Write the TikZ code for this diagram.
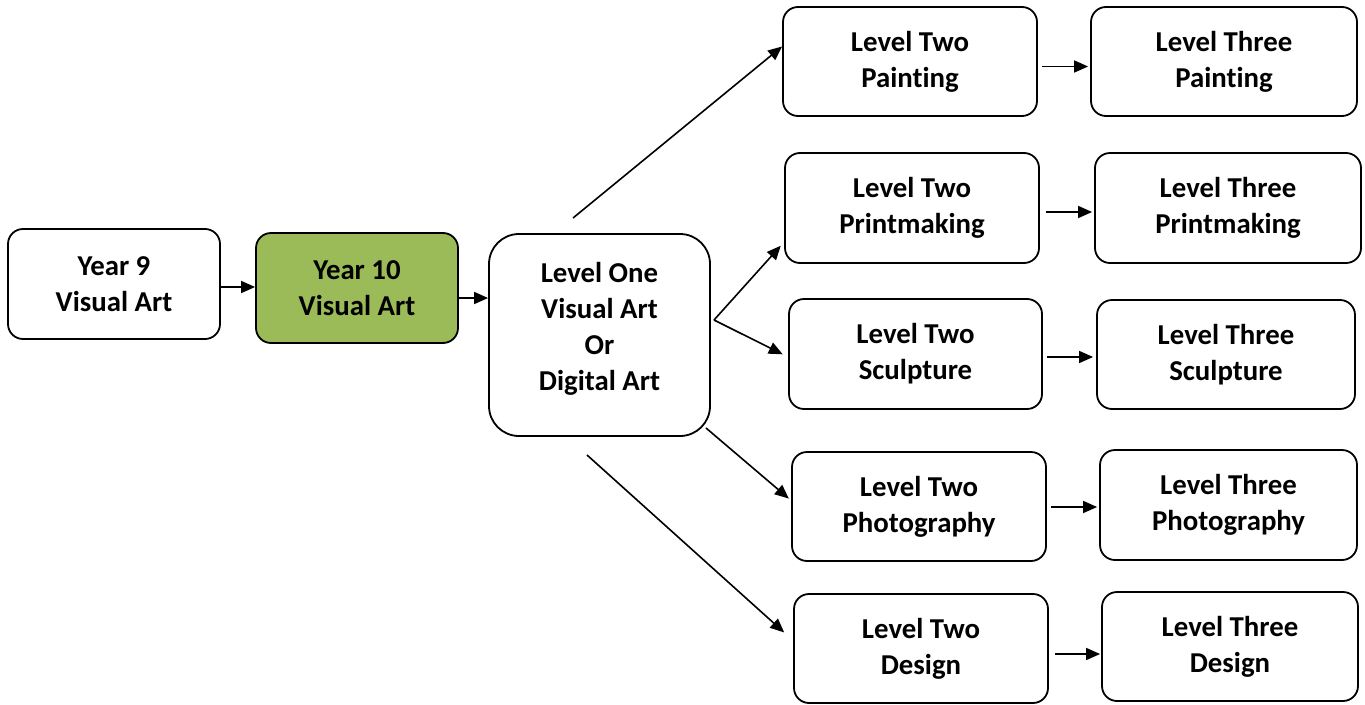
\documentclass[tikz,border=0pt]{standalone}
\usepackage{fontspec}
\setmainfont[Ligatures=NoCommon]{Carlito}
\usetikzlibrary{arrows.meta,calc}
\definecolor{olive}{HTML}{9BBB59}
\tikzset{
  box/.style={draw=black, line width=1.8pt, rounded corners=15pt, fill=white,
    align=center, inner sep=0pt, font=\fontsize{28.8}{36}\selectfont\bfseries},
  arr/.style={line width=1.6pt, -{Triangle[length=14pt,width=12pt]}}
}
\begin{document}
\begin{tikzpicture}[x=1pt,y=-1pt]
\useasboundingbox (0,0) rectangle (1365,704);
% nodes: center, width, height
\node[box, minimum width=212pt, minimum height=110pt] (y9) at (114,284) {Year 9\\Visual Art};
\node[box, fill=olive, minimum width=202pt, minimum height=110pt] (y10) at (357,288) {Year 10\\Visual Art};
\node[box, rounded corners=30pt, minimum width=221pt, minimum height=202pt, text depth=18pt] (lo) at (599.5,335) {Level One\\Visual Art\\Or\\Digital Art};

\node[box, minimum width=254pt, minimum height=109pt] (p2) at (910,61.5) {Level Two\\Painting};
\node[box, minimum width=266pt, minimum height=109pt] (p3) at (1224,61.5) {Level Three\\Painting};
\node[box, minimum width=254pt, minimum height=110pt] (m2) at (912,208) {Level Two\\Printmaking};
\node[box, minimum width=266pt, minimum height=110pt] (m3) at (1228,208) {Level Three\\Printmaking};
\node[box, minimum width=253pt, minimum height=110pt] (s2) at (915.5,354) {Level Two\\Sculpture};
\node[box, minimum width=258pt, minimum height=109pt] (s3) at (1226,354.5) {Level Three\\Sculpture};
\node[box, minimum width=254pt, minimum height=109pt] (h2) at (919,506.5) {Level Two\\Photography};
\node[box, minimum width=257pt, minimum height=110pt] (h3) at (1228.5,505) {Level Three\\Photography};
\node[box, minimum width=254pt, minimum height=109pt] (d2) at (921,648.5) {Level Two\\Design};
\node[box, minimum width=256pt, minimum height=109pt] (d3) at (1230,646.5) {Level Three\\Design};

% free ends
\coordinate (topstart) at (573,218);
\coordinate (fork) at (714,320);
\coordinate (photostart) at (706,428);
\coordinate (botstart) at (587,455);

\draw[arr] ([yshift=-3pt]y9.east) -- ([yshift=-3pt]y9.east -| y10.west);
\draw[arr] ([yshift=-10pt]y10.east) -- ([yshift=-10pt]y10.east -| lo.west);

\draw[arr] (topstart) -- ([yshift=15pt]p2.west);
\draw[arr, shorten >=5pt] (fork) -- ([yshift=-34pt]m2.west);
\draw[arr, shorten >=6pt] (fork) -- ([yshift=-3pt]s2.west);
\draw[arr, shorten >=3pt] (photostart) -- ([yshift=6pt]h2.west);
\draw[arr, shorten >=12pt] (botstart) -- ([yshift=8pt]d2.west);

\draw[arr, shorten <=4pt, shorten >=2pt] ([yshift=-5pt]p2.east) -- ([yshift=-5pt]p2.east -| p3.west);
\draw[arr, shorten <=6pt, shorten >=2pt] ([yshift=-4pt]m2.east) -- ([yshift=-4pt]m2.east -| m3.west);
\draw[arr, shorten <=4pt, shorten >=3pt] ([yshift=-3pt]s2.east) -- ([yshift=-3pt]s2.east -| s3.west);
\draw[arr, shorten <=4pt, shorten >=2pt] ([yshift=-0.5pt]h2.east) -- ([yshift=-0.5pt]h2.east -| h3.west);
\draw[arr, shorten <=6pt, shorten >=1pt] ([yshift=-5.5pt]d2.east) -- ([yshift=-5.5pt]d2.east -| d3.west);
\end{tikzpicture}
\end{document}
